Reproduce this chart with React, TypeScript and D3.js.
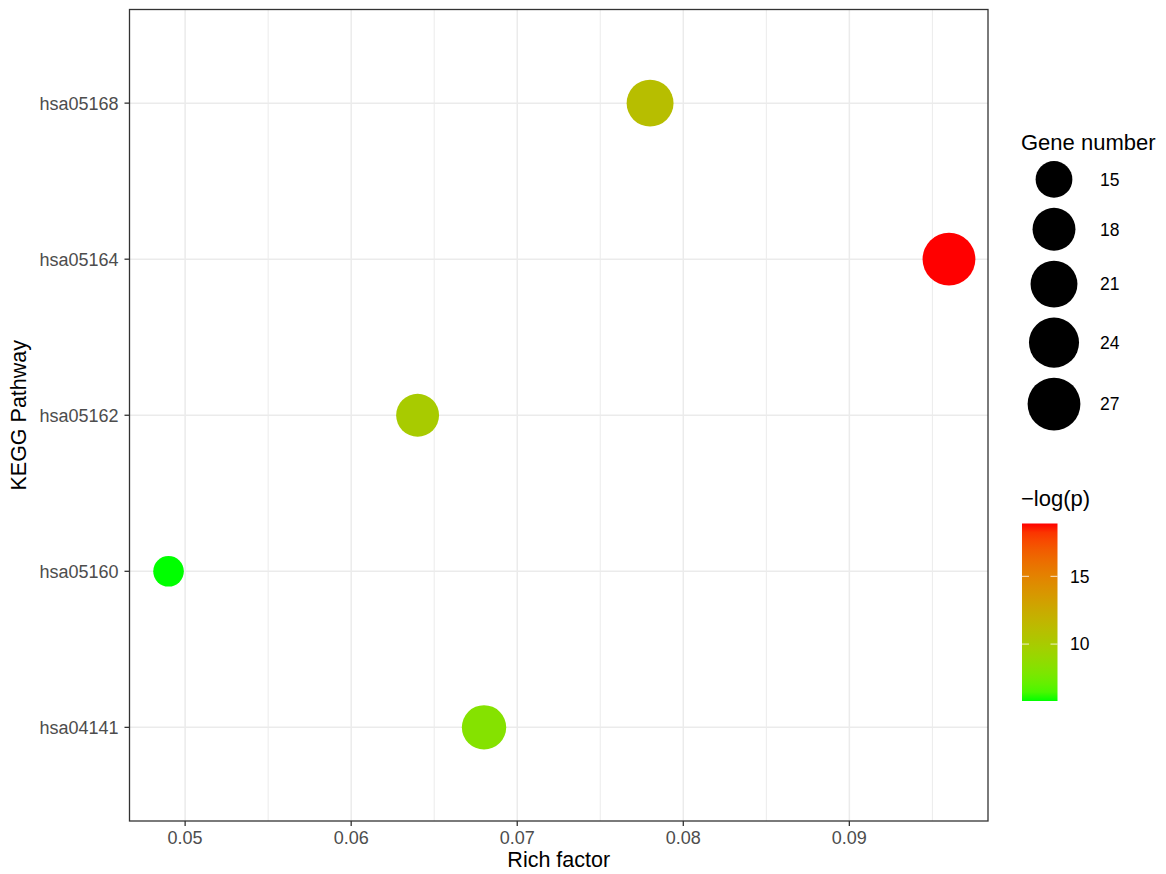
import React from 'react'
import * as d3 from 'd3'

// KEGG enrichment bubble data
const pathways = ['hsa05168', 'hsa05164', 'hsa05162', 'hsa05160', 'hsa04141']
const richFactor = [0.078, 0.096, 0.064, 0.049, 0.068]
const geneNumber = [21, 27, 18, 14, 19]
const negLogP = [11.0, 18.9, 10.0, 5.8, 8.2]

const sizeBreaks = [15, 18, 21, 24, 27]
const colorBreaks = [10, 15]
const xTicks = [0.05, 0.06, 0.07, 0.08, 0.09]
const xMinorTicks = [0.055, 0.065, 0.075, 0.085, 0.095]

const font = 'Liberation Sans, Arial, Helvetica, sans-serif'

const App = () => {
  const panel = { left: 129.5, right: 988, top: 9.5, bottom: 821 }

  //D3 mathy bits
  const xExt = d3.extent(richFactor) as [number, number]
  const xPad = (xExt[1] - xExt[0]) * 0.05
  const x = d3
    .scaleLinear()
    .domain([xExt[0] - xPad, xExt[1] + xPad])
    .range([panel.left, panel.right])

  const y = d3
    .scalePoint()
    .domain(pathways)
    .range([panel.top, panel.bottom])
    .padding(0.6)

  // ggplot style area scale: radius ~ sqrt of rescaled value
  const norm = d3
    .scaleLinear()
    .domain(d3.extent(geneNumber) as [number, number])
  const rad = d3.scaleSqrt().domain([0, 1]).range([15.3, 26.4])
  const r = (v: number) => rad(Math.max(0, norm(v)))

  const cExt = d3.extent(negLogP) as [number, number]
  const color = d3
    .scaleLinear<string>()
    .domain(cExt)
    .range(['#00ff00', '#ff0000'])
    .interpolate(d3.interpolateLab)

  // colour bar
  const bar = { x: 1022, w: 35.5, top: 523.5, bottom: 701 }
  const cy = d3.scaleLinear().domain(cExt).range([bar.bottom, bar.top])
  const stops = d3.range(0, 1.0001, 0.05)

  // size legend layout
  let acc = 161
  const keys = sizeBreaks.map((b) => {
    const d = r(b) * 2
    const h = d + 10
    const k = { b, cy: acc + h / 2 - 5, r: r(b) }
    acc += h
    return k
  })

  const grid = '#ebebeb'
  const tickColor = '#333333'
  const labelColor = '#4d4d4d'

  return (
    <svg width={1166} height={874} style={{ display: 'block', position: 'absolute', left: 0, top: 0 }}>
      <rect width={1166} height={874} fill="white" />

      {/* grid */}
      {xMinorTicks.map((t) => (
        <line key={'m' + t} x1={x(t)} x2={x(t)} y1={panel.top} y2={panel.bottom} stroke={grid} strokeWidth={1} />
      ))}
      {xTicks.map((t) => (
        <line key={'M' + t} x1={x(t)} x2={x(t)} y1={panel.top} y2={panel.bottom} stroke={grid} strokeWidth={1.5} />
      ))}
      {pathways.map((p) => (
        <line key={'h' + p} x1={panel.left} x2={panel.right} y1={y(p)} y2={y(p)} stroke={grid} strokeWidth={1.5} />
      ))}

      {/* points */}
      {pathways.map((p, i) => (
        <circle key={p} cx={x(richFactor[i])} cy={y(p)} r={r(geneNumber[i])} fill={color(negLogP[i])} />
      ))}

      <rect
        x={panel.left}
        y={panel.top}
        width={panel.right - panel.left}
        height={panel.bottom - panel.top}
        fill="none"
        stroke={tickColor}
        strokeWidth={1.3}
      />

      {/* y axis */}
      {pathways.map((p) => (
        <g key={'y' + p}>
          <line x1={panel.left - 5} x2={panel.left} y1={y(p)} y2={y(p)} stroke={tickColor} strokeWidth={1.3} />
          <text x={panel.left - 11} y={y(p)} dy="0.36em" textAnchor="end" fontFamily={font} fontSize={18} fill={labelColor}>
            {p}
          </text>
        </g>
      ))}
      <text
        transform={`translate(26,${(panel.top + panel.bottom) / 2}) rotate(-90)`}
        textAnchor="middle"
        fontFamily={font}
        fontSize={21.5}
        fill="black"
      >
        KEGG Pathway
      </text>

      {/* x axis */}
      {xTicks.map((t) => (
        <g key={'x' + t}>
          <line x1={x(t)} x2={x(t)} y1={panel.bottom} y2={panel.bottom + 5} stroke={tickColor} strokeWidth={1.3} />
          <text x={x(t)} y={panel.bottom + 23} textAnchor="middle" fontFamily={font} fontSize={18} fill={labelColor}>
            {d3.format('.2f')(t).replace(/0$/, '')}
          </text>
        </g>
      ))}
      <text x={(panel.left + panel.right) / 2} y={867} textAnchor="middle" fontFamily={font} fontSize={21.5} fill="black">
        Rich factor
      </text>

      {/* size legend */}
      <text x={1021} y={150} fontFamily={font} fontSize={22} fill="black">
        Gene number
      </text>
      {keys.map((k) => (
        <g key={'k' + k.b}>
          <circle cx={1054} cy={k.cy} r={k.r} fill="black" />
          <text x={1100} y={k.cy} dy="0.36em" fontFamily={font} fontSize={17.5} fill="black">
            {k.b}
          </text>
        </g>
      ))}

      {/* colour legend */}
      <text x={1021} y={506} fontFamily={font} fontSize={22} fill="black">
        {'\u2212log(p)'}
      </text>
      <defs>
        <linearGradient id="cbar" x1="0" y1="1" x2="0" y2="0">
          {stops.map((s) => (
            <stop key={s} offset={s} stopColor={color(cExt[0] + s * (cExt[1] - cExt[0]))} />
          ))}
        </linearGradient>
      </defs>
      <rect x={bar.x} y={bar.top} width={bar.w} height={bar.bottom - bar.top} fill="url(#cbar)" />
      {colorBreaks.map((b) => (
        <g key={'c' + b}>
          <line x1={bar.x} x2={bar.x + 7} y1={cy(b)} y2={cy(b)} stroke="white" strokeOpacity={0.8} strokeWidth={1} />
          <line x1={bar.x + bar.w - 7} x2={bar.x + bar.w} y1={cy(b)} y2={cy(b)} stroke="white" strokeOpacity={0.8} strokeWidth={1} />
          <text x={1070} y={cy(b)} dy="0.36em" fontFamily={font} fontSize={17.5} fill="black">
            {b}
          </text>
        </g>
      ))}
    </svg>
  )
}

export default App
